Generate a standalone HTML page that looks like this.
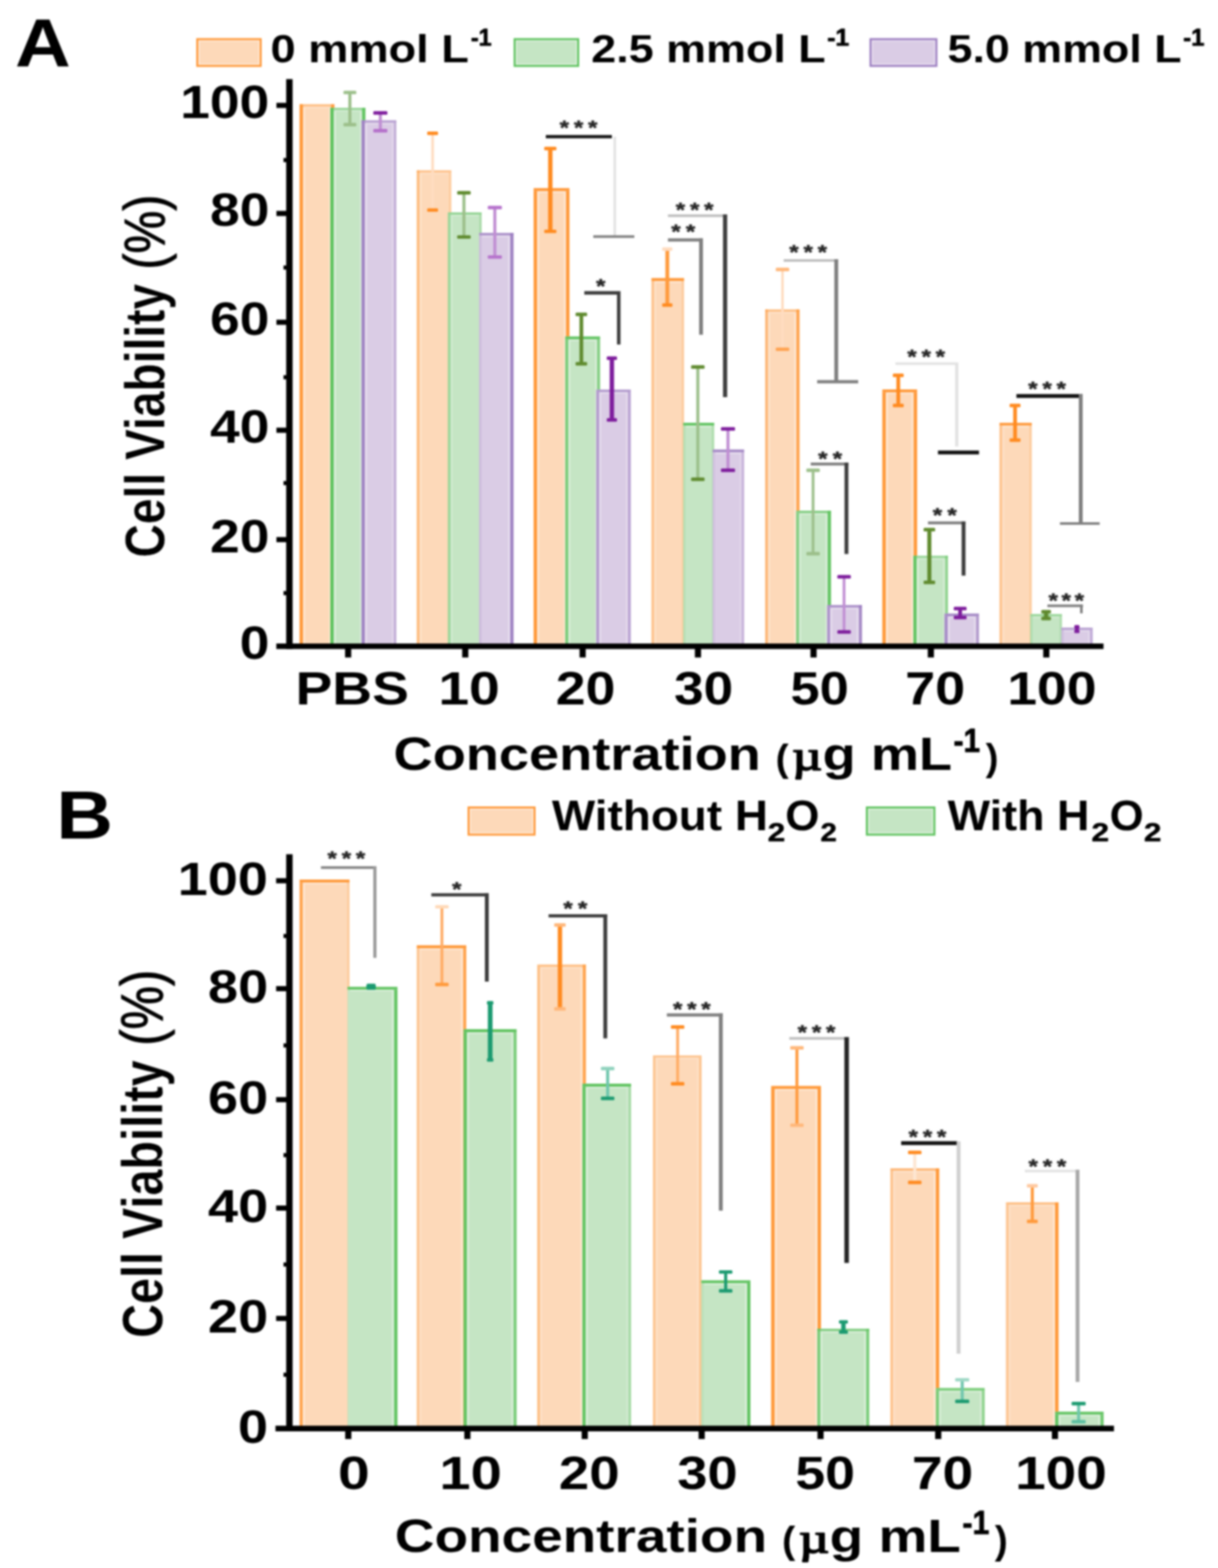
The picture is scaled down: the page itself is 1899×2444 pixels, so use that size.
<!DOCTYPE html>
<html lang="en"><head><meta charset="utf-8"><title>Cell viability</title>
<style>
html,body{margin:0;padding:0;background:#fff}
body{width:1899px;height:2444px;overflow:hidden}
svg{display:block}
svg text{font-family:"Liberation Sans", Arial, Helvetica, sans-serif;font-weight:bold}
</style></head><body>
<svg width="1899" height="2444" viewBox="0 0 1899 2444">
<defs><filter id="soft" filterUnits="userSpaceOnUse" x="0" y="0" width="1899" height="2444" color-interpolation-filters="sRGB"><feGaussianBlur stdDeviation="1.4"/></filter></defs>
<rect width="1899" height="2444" fill="#fff"/>
<g id="chart" filter="url(#soft)">
<rect x="467.1" y="162.5" width="54.2" height="844.8" fill="#fdd9b9" />
<rect x="467.1" y="162.5" width="54.2" height="3.4" fill="#ff9838" opacity="0.42"/>
<rect x="467.1" y="162.5" width="5.2" height="844.8" fill="#ff9838" opacity="1.00"/>
<rect x="516.3" y="162.5" width="5.0" height="844.8" fill="#ff9838" opacity="0.95"/>
<rect x="473.3" y="166.5" width="42.0" height="2.0" fill="#fff" opacity="0.25"/>
<rect x="472.9" y="168.5" width="2.6" height="838.8" fill="#fff" opacity="0.42"/>
<rect x="513.1" y="168.5" width="2.6" height="838.8" fill="#fff" opacity="0.42"/>
<rect x="515.0" y="168.0" width="54.6" height="839.3" fill="#c5e5c4" />
<rect x="515.0" y="168.0" width="54.6" height="3.4" fill="#5cc25c" opacity="0.42"/>
<rect x="515.0" y="168.0" width="5.2" height="839.3" fill="#5cc25c" opacity="1.00"/>
<rect x="564.6" y="168.0" width="5.0" height="839.3" fill="#5cc25c" opacity="0.95"/>
<rect x="521.2" y="172.0" width="42.4" height="2.0" fill="#fff" opacity="0.25"/>
<rect x="520.8" y="174.0" width="2.6" height="833.3" fill="#fff" opacity="0.42"/>
<rect x="561.4" y="174.0" width="2.6" height="833.3" fill="#fff" opacity="0.42"/>
<rect x="563.7" y="187.5" width="54.3" height="819.8" fill="#dacce5" />
<rect x="563.7" y="187.5" width="54.3" height="3.6" fill="#9b7dc0" opacity="0.53"/>
<rect x="563.7" y="187.5" width="5.0" height="819.8" fill="#9b7dc0" opacity="0.95"/>
<rect x="614.1" y="191.1" width="3.9" height="816.2" fill="#9b7dc0" opacity="0.37"/>
<rect x="569.7" y="191.7" width="43.4" height="2.0" fill="#fff" opacity="0.29"/>
<rect x="569.3" y="193.7" width="2.6" height="813.6" fill="#fff" opacity="0.42"/>
<rect x="610.9" y="193.7" width="2.6" height="813.6" fill="#fff" opacity="0.23"/>
<rect x="649.8" y="265.5" width="53.8" height="741.8" fill="#fdd9b9" />
<rect x="649.8" y="265.5" width="53.8" height="3.3" fill="#ff9838" opacity="0.37"/>
<rect x="649.8" y="265.5" width="4.1" height="741.8" fill="#ff9838" opacity="0.47"/>
<rect x="700.0" y="268.8" width="3.6" height="738.5" fill="#ff9838" opacity="0.21"/>
<rect x="654.9" y="269.4" width="44.1" height="2.0" fill="#fff" opacity="0.23"/>
<rect x="654.5" y="271.4" width="2.6" height="735.9" fill="#fff" opacity="0.27"/>
<rect x="698.3" y="331.0" width="52.7" height="676.3" fill="#c5e5c4" />
<rect x="698.3" y="331.0" width="52.7" height="3.5" fill="#5cc25c" opacity="0.47"/>
<rect x="698.3" y="334.5" width="4.0" height="672.8" fill="#5cc25c" opacity="0.42"/>
<rect x="747.3" y="334.5" width="3.7" height="672.8" fill="#5cc25c" opacity="0.26"/>
<rect x="703.3" y="335.1" width="43.0" height="2.0" fill="#fff" opacity="0.27"/>
<rect x="702.9" y="337.1" width="2.6" height="670.2" fill="#fff" opacity="0.25"/>
<rect x="747.0" y="363.0" width="53.6" height="644.3" fill="#dacce5" />
<rect x="747.0" y="363.0" width="53.6" height="3.9" fill="#9b7dc0" opacity="0.73"/>
<rect x="747.0" y="366.9" width="3.6" height="640.4" fill="#9b7dc0" opacity="0.21"/>
<rect x="795.6" y="363.0" width="5.0" height="644.3" fill="#9b7dc0" opacity="0.95"/>
<rect x="751.6" y="367.5" width="43.0" height="2.0" fill="#fff" opacity="0.38"/>
<rect x="792.4" y="369.5" width="2.6" height="637.8" fill="#fff" opacity="0.42"/>
<rect x="832.0" y="293.3" width="55.8" height="714.0" fill="#fdd9b9" />
<rect x="832.0" y="293.3" width="55.8" height="4.4" fill="#ff9838" opacity="1.00"/>
<rect x="832.0" y="297.7" width="5.2" height="709.6" fill="#ff9838" opacity="1.00"/>
<rect x="882.6" y="297.7" width="5.2" height="709.6" fill="#ff9838" opacity="1.00"/>
<rect x="838.2" y="298.3" width="43.4" height="2.0" fill="#fff" opacity="0.42"/>
<rect x="837.8" y="300.3" width="2.6" height="707.0" fill="#fff" opacity="0.42"/>
<rect x="879.4" y="300.3" width="2.6" height="707.0" fill="#fff" opacity="0.42"/>
<rect x="881.3" y="524.5" width="54.2" height="482.8" fill="#c5e5c4" />
<rect x="881.3" y="524.5" width="54.2" height="4.2" fill="#5cc25c" opacity="0.95"/>
<rect x="881.3" y="528.8" width="4.6" height="478.5" fill="#5cc25c" opacity="0.73"/>
<rect x="931.1" y="528.8" width="4.4" height="478.5" fill="#5cc25c" opacity="0.63"/>
<rect x="886.9" y="529.4" width="43.2" height="2.0" fill="#fff" opacity="0.42"/>
<rect x="886.5" y="531.4" width="2.6" height="475.9" fill="#fff" opacity="0.38"/>
<rect x="927.9" y="531.4" width="2.6" height="475.9" fill="#fff" opacity="0.34"/>
<rect x="929.6" y="607.3" width="53.8" height="400.0" fill="#dacce5" />
<rect x="929.6" y="607.3" width="53.8" height="3.7" fill="#9b7dc0" opacity="0.63"/>
<rect x="929.6" y="611.0" width="4.4" height="396.3" fill="#9b7dc0" opacity="0.63"/>
<rect x="979.2" y="611.0" width="4.2" height="396.3" fill="#9b7dc0" opacity="0.53"/>
<rect x="935.0" y="611.6" width="43.2" height="2.0" fill="#fff" opacity="0.34"/>
<rect x="934.6" y="613.6" width="2.6" height="393.7" fill="#fff" opacity="0.34"/>
<rect x="976.0" y="613.6" width="2.6" height="393.7" fill="#fff" opacity="0.29"/>
<rect x="1015.7" y="433.5" width="50.8" height="573.8" fill="#fdd9b9" />
<rect x="1015.7" y="433.5" width="50.8" height="4.4" fill="#ff9838" opacity="1.00"/>
<rect x="1015.7" y="437.9" width="3.9" height="569.4" fill="#ff9838" opacity="0.37"/>
<rect x="1062.9" y="437.9" width="3.6" height="569.4" fill="#ff9838" opacity="0.21"/>
<rect x="1020.6" y="438.5" width="41.3" height="2.0" fill="#fff" opacity="0.42"/>
<rect x="1020.2" y="440.5" width="2.6" height="566.8" fill="#fff" opacity="0.23"/>
<rect x="1065.2" y="659.0" width="48.3" height="348.3" fill="#c5e5c4" />
<rect x="1065.2" y="659.0" width="48.3" height="4.2" fill="#5cc25c" opacity="0.95"/>
<rect x="1065.2" y="663.2" width="3.5" height="344.0" fill="#5cc25c" opacity="0.16"/>
<rect x="1109.9" y="663.2" width="3.6" height="344.0" fill="#5cc25c" opacity="0.21"/>
<rect x="1069.7" y="663.9" width="39.2" height="2.0" fill="#fff" opacity="0.42"/>
<rect x="1111.1" y="700.7" width="49.1" height="306.6" fill="#dacce5" />
<rect x="1111.1" y="700.7" width="49.1" height="4.1" fill="#9b7dc0" opacity="0.84"/>
<rect x="1111.1" y="704.8" width="3.5" height="302.5" fill="#9b7dc0" opacity="0.16"/>
<rect x="1156.4" y="704.8" width="3.8" height="302.5" fill="#9b7dc0" opacity="0.32"/>
<rect x="1115.6" y="705.4" width="39.8" height="2.0" fill="#fff" opacity="0.42"/>
<rect x="1153.2" y="707.4" width="2.6" height="299.9" fill="#fff" opacity="0.21"/>
<rect x="1193.0" y="482.3" width="53.5" height="525.0" fill="#fdd9b9" />
<rect x="1193.0" y="482.3" width="53.5" height="3.4" fill="#ff9838" opacity="0.42"/>
<rect x="1193.0" y="482.3" width="4.2" height="525.0" fill="#ff9838" opacity="0.53"/>
<rect x="1241.7" y="482.3" width="4.8" height="525.0" fill="#ff9838" opacity="0.84"/>
<rect x="1198.2" y="486.3" width="42.5" height="2.0" fill="#fff" opacity="0.25"/>
<rect x="1197.8" y="488.3" width="2.6" height="519.0" fill="#fff" opacity="0.29"/>
<rect x="1238.5" y="488.3" width="2.6" height="519.0" fill="#fff" opacity="0.42"/>
<rect x="1241.3" y="796.0" width="54.2" height="211.3" fill="#c5e5c4" />
<rect x="1241.3" y="796.0" width="54.2" height="3.7" fill="#5cc25c" opacity="0.63"/>
<rect x="1241.3" y="799.7" width="4.4" height="207.6" fill="#5cc25c" opacity="0.63"/>
<rect x="1290.5" y="796.0" width="5.0" height="211.3" fill="#5cc25c" opacity="0.95"/>
<rect x="1246.7" y="800.3" width="42.8" height="2.0" fill="#fff" opacity="0.34"/>
<rect x="1246.3" y="802.3" width="2.6" height="205.0" fill="#fff" opacity="0.34"/>
<rect x="1287.3" y="802.3" width="2.6" height="205.0" fill="#fff" opacity="0.42"/>
<rect x="1289.6" y="943.0" width="54.3" height="64.3" fill="#dacce5" />
<rect x="1289.6" y="943.0" width="54.3" height="3.9" fill="#9b7dc0" opacity="0.73"/>
<rect x="1289.6" y="946.9" width="4.6" height="60.4" fill="#9b7dc0" opacity="0.73"/>
<rect x="1339.1" y="943.0" width="4.8" height="64.3" fill="#9b7dc0" opacity="0.84"/>
<rect x="1295.2" y="947.5" width="42.9" height="2.0" fill="#fff" opacity="0.38"/>
<rect x="1294.8" y="949.5" width="2.6" height="57.8" fill="#fff" opacity="0.38"/>
<rect x="1335.9" y="949.5" width="2.6" height="57.8" fill="#fff" opacity="0.42"/>
<rect x="1375.7" y="607.0" width="54.1" height="400.3" fill="#fdd9b9" />
<rect x="1375.7" y="607.0" width="54.1" height="4.4" fill="#ff9838" opacity="1.00"/>
<rect x="1375.7" y="611.4" width="5.2" height="395.9" fill="#ff9838" opacity="1.00"/>
<rect x="1424.6" y="611.4" width="5.2" height="395.9" fill="#ff9838" opacity="1.00"/>
<rect x="1381.9" y="612.0" width="41.7" height="2.0" fill="#fff" opacity="0.42"/>
<rect x="1381.5" y="614.0" width="2.6" height="393.3" fill="#fff" opacity="0.42"/>
<rect x="1421.4" y="614.0" width="2.6" height="393.3" fill="#fff" opacity="0.42"/>
<rect x="1424.0" y="866.2" width="54.0" height="141.1" fill="#c5e5c4" />
<rect x="1424.0" y="866.2" width="54.0" height="3.4" fill="#5cc25c" opacity="0.42"/>
<rect x="1424.0" y="866.2" width="5.0" height="141.1" fill="#5cc25c" opacity="0.95"/>
<rect x="1473.8" y="866.2" width="4.2" height="141.1" fill="#5cc25c" opacity="0.53"/>
<rect x="1430.0" y="870.2" width="42.8" height="2.0" fill="#fff" opacity="0.25"/>
<rect x="1429.6" y="872.2" width="2.6" height="135.1" fill="#fff" opacity="0.42"/>
<rect x="1470.6" y="872.2" width="2.6" height="135.1" fill="#fff" opacity="0.29"/>
<rect x="1472.6" y="956.4" width="53.7" height="50.9" fill="#dacce5" />
<rect x="1472.6" y="956.4" width="53.7" height="4.1" fill="#9b7dc0" opacity="0.84"/>
<rect x="1472.6" y="960.5" width="4.8" height="46.8" fill="#9b7dc0" opacity="0.84"/>
<rect x="1521.9" y="960.5" width="4.4" height="46.8" fill="#9b7dc0" opacity="0.63"/>
<rect x="1478.4" y="961.1" width="42.5" height="2.0" fill="#fff" opacity="0.42"/>
<rect x="1478.0" y="963.1" width="2.6" height="44.2" fill="#fff" opacity="0.42"/>
<rect x="1518.7" y="963.1" width="2.6" height="44.2" fill="#fff" opacity="0.34"/>
<rect x="1558.4" y="659.0" width="50.2" height="348.3" fill="#fdd9b9" />
<rect x="1558.4" y="659.0" width="50.2" height="4.2" fill="#ff9838" opacity="0.95"/>
<rect x="1558.4" y="663.2" width="3.9" height="344.0" fill="#ff9838" opacity="0.37"/>
<rect x="1605.0" y="663.2" width="3.6" height="344.0" fill="#ff9838" opacity="0.21"/>
<rect x="1563.3" y="663.9" width="40.7" height="2.0" fill="#fff" opacity="0.42"/>
<rect x="1562.9" y="665.9" width="2.6" height="341.4" fill="#fff" opacity="0.23"/>
<rect x="1606.2" y="957.1" width="49.5" height="50.2" fill="#c5e5c4" />
<rect x="1606.2" y="957.1" width="49.5" height="3.4" fill="#5cc25c" opacity="0.42"/>
<rect x="1606.2" y="960.5" width="3.6" height="46.8" fill="#5cc25c" opacity="0.21"/>
<rect x="1652.1" y="960.5" width="3.6" height="46.8" fill="#5cc25c" opacity="0.21"/>
<rect x="1610.8" y="961.1" width="40.3" height="2.0" fill="#fff" opacity="0.25"/>
<rect x="1654.6" y="978.3" width="49.0" height="29.0" fill="#dacce5" />
<rect x="1654.6" y="978.3" width="49.0" height="3.6" fill="#9b7dc0" opacity="0.53"/>
<rect x="1654.6" y="981.9" width="3.6" height="25.4" fill="#9b7dc0" opacity="0.21"/>
<rect x="1699.6" y="981.9" width="4.0" height="25.4" fill="#9b7dc0" opacity="0.42"/>
<rect x="1659.2" y="982.5" width="39.4" height="2.0" fill="#fff" opacity="0.29"/>
<rect x="1696.4" y="984.5" width="2.6" height="22.8" fill="#fff" opacity="0.25"/>
<rect x="543.1" y="144.1" width="4.8" height="50.1" fill="#9cbf8a" />
<rect x="535.5" y="141.4" width="20" height="5.4" rx="1.5" fill="#9cbf8a"/>
<rect x="535.5" y="191.5" width="20" height="5.4" rx="1.5" fill="#9cbf8a"/>
<rect x="590.6" y="176.0" width="4.8" height="27.7" fill="#c08ed3" />
<rect x="582.0" y="173.3" width="22" height="5.4" rx="1.5" fill="#7d1c9c"/>
<rect x="582.0" y="201.0" width="22" height="5.4" rx="1.5" fill="#b46fca"/>
<rect x="672.4" y="207.8" width="4.2" height="119.6" fill="#ffdcc0" />
<rect x="666.0" y="205.1" width="17" height="5.4" rx="1.5" fill="#ff8a1f"/>
<rect x="666.0" y="324.7" width="17" height="5.4" rx="1.5" fill="#ff8a1f"/>
<rect x="720.9" y="300.5" width="4.8" height="68.9" fill="#9cbf8a" />
<rect x="712.8" y="297.8" width="21" height="5.4" rx="1.5" fill="#5f8a2e"/>
<rect x="712.8" y="366.7" width="21" height="5.4" rx="1.5" fill="#5f8a2e"/>
<rect x="769.1" y="323.5" width="4.8" height="77.1" fill="#c08ed3" />
<rect x="760.5" y="320.8" width="22" height="5.4" rx="1.5" fill="#b673cc"/>
<rect x="760.5" y="397.9" width="22" height="5.4" rx="1.5" fill="#b673cc"/>
<rect x="854.6" y="231.5" width="6.8" height="129.1" fill="#ff8a1f" />
<rect x="848.5" y="228.8" width="19" height="5.4" rx="1.5" fill="#ff8a1f"/>
<rect x="848.5" y="357.9" width="19" height="5.4" rx="1.5" fill="#ff8a1f"/>
<rect x="903.5" y="490.0" width="5.8" height="77.0" fill="#5f8a2e" />
<rect x="897.4" y="487.3" width="18" height="5.4" rx="1.5" fill="#5f8a2e"/>
<rect x="897.4" y="564.3" width="18" height="5.4" rx="1.5" fill="#5f8a2e"/>
<rect x="950.6" y="558.3" width="6.8" height="96.2" fill="#7d1c9c" />
<rect x="946.0" y="555.6" width="16" height="5.4" rx="1.5" fill="#7d1c9c"/>
<rect x="946.0" y="651.8" width="16" height="5.4" rx="1.5" fill="#7d1c9c"/>
<rect x="1037.4" y="388.2" width="6.0" height="87.3" fill="#ff9a3c" />
<rect x="1032.4" y="385.5" width="16" height="5.4" rx="1.5" fill="#ffdcc0"/>
<rect x="1032.4" y="472.8" width="16" height="5.4" rx="1.5" fill="#ff8a1f"/>
<rect x="1085.6" y="572.0" width="4.8" height="175.0" fill="#9cbf8a" />
<rect x="1077.5" y="569.3" width="21" height="5.4" rx="1.5" fill="#5f8a2e"/>
<rect x="1077.5" y="744.3" width="21" height="5.4" rx="1.5" fill="#5f8a2e"/>
<rect x="1132.6" y="668.5" width="4.8" height="64.5" fill="#c08ed3" />
<rect x="1124.0" y="665.8" width="22" height="5.4" rx="1.5" fill="#7d1c9c"/>
<rect x="1124.0" y="730.3" width="22" height="5.4" rx="1.5" fill="#7d1c9c"/>
<rect x="1218.0" y="420.0" width="4.0" height="124.4" fill="#ffdcc0" />
<rect x="1209.5" y="417.3" width="21" height="5.4" rx="1.5" fill="#ffb77a"/>
<rect x="1209.5" y="541.7" width="21" height="5.4" rx="1.5" fill="#ffa24f"/>
<rect x="1265.5" y="733.0" width="4.3" height="130.0" fill="#9cbf8a" />
<rect x="1257.2" y="730.3" width="21" height="5.4" rx="1.5" fill="#9cbf8a"/>
<rect x="1257.2" y="860.3" width="21" height="5.4" rx="1.5" fill="#9cbf8a"/>
<rect x="1313.8" y="899.0" width="4.3" height="86.0" fill="#c08ed3" />
<rect x="1305.5" y="896.3" width="21" height="5.4" rx="1.5" fill="#7d1c9c"/>
<rect x="1305.5" y="982.3" width="21" height="5.4" rx="1.5" fill="#7d1c9c"/>
<rect x="1397.6" y="585.0" width="5.8" height="47.0" fill="#ff8a1f" />
<rect x="1392.0" y="582.3" width="17" height="5.4" rx="1.5" fill="#ff8a1f"/>
<rect x="1392.0" y="629.3" width="17" height="5.4" rx="1.5" fill="#ff8a1f"/>
<rect x="1445.8" y="825.5" width="6.3" height="82.3" fill="#5f8a2e" />
<rect x="1440.0" y="822.8" width="18" height="5.4" rx="1.5" fill="#5f8a2e"/>
<rect x="1440.0" y="905.1" width="18" height="5.4" rx="1.5" fill="#5f8a2e"/>
<rect x="1494.1" y="948.5" width="5.8" height="14.0" fill="#7d1c9c" />
<rect x="1487.0" y="945.8" width="20" height="5.4" rx="1.5" fill="#7d1c9c"/>
<rect x="1487.0" y="959.8" width="20" height="5.4" rx="1.5" fill="#7d1c9c"/>
<rect x="1579.7" y="632.0" width="5.8" height="54.0" fill="#ff8a1f" />
<rect x="1574.1" y="629.3" width="17" height="5.4" rx="1.5" fill="#ff8a1f"/>
<rect x="1574.1" y="683.3" width="17" height="5.4" rx="1.5" fill="#ff8a1f"/>
<rect x="1627.6" y="953.5" width="6.8" height="10.5" fill="#5f8a2e" />
<rect x="1623.5" y="950.8" width="15" height="5.4" rx="1.5" fill="#5f8a2e"/>
<rect x="1623.5" y="961.3" width="15" height="5.4" rx="1.5" fill="#5f8a2e"/>
<rect x="1676.1" y="977.0" width="5.8" height="7.0" fill="#7d1c9c" />
<rect x="1675.0" y="974.3" width="8" height="5.4" rx="1.5" fill="#7d1c9c"/>
<rect x="1675.0" y="981.3" width="8" height="5.4" rx="1.5" fill="#7d1c9c"/>
<line x1="851.0" y1="213.0" x2="954.0" y2="213.0" stroke="#111" stroke-width="5" stroke-linecap="butt"/>
<line x1="958.5" y1="213.0" x2="958.5" y2="368.7" stroke="#e2e2e2" stroke-width="4" stroke-linecap="butt"/>
<line x1="925.0" y1="368.7" x2="989.0" y2="368.7" stroke="#7f7f7f" stroke-width="4" stroke-linecap="butt"/>
<text transform="translate(872.6,210.2) scale(1.22,1)" font-size="31" letter-spacing="6.02" fill="#262626" stroke="#262626" stroke-width="0.6" stroke-linejoin="round">***</text>
<polyline points="911.0,456.4 964.7,456.4 964.7,537.0" fill="none" stroke="#3c3c3c" stroke-width="5.5" stroke-linejoin="miter"/>
<text transform="translate(929.3,456.7) scale(1.22,1)" font-size="31" letter-spacing="0.00" fill="#262626" stroke="#262626" stroke-width="0.6" stroke-linejoin="round">*</text>
<line x1="1041.4" y1="336.2" x2="1133.5" y2="336.2" stroke="#bdbdbd" stroke-width="4" stroke-linecap="butt"/>
<line x1="1130.5" y1="334.2" x2="1130.5" y2="619.0" stroke="#3c3c3c" stroke-width="6.5" stroke-linecap="butt"/>
<text transform="translate(1053.6,337.5) scale(1.22,1)" font-size="31" letter-spacing="6.02" fill="#262626" stroke="#262626" stroke-width="0.6" stroke-linejoin="round">***</text>
<line x1="1041.4" y1="374.0" x2="1096.0" y2="374.0" stroke="#7f7f7f" stroke-width="5" stroke-linecap="butt"/>
<line x1="1093.0" y1="371.5" x2="1093.0" y2="521.8" stroke="#7f7f7f" stroke-width="6" stroke-linecap="butt"/>
<text transform="translate(1046.6,372.1) scale(1.22,1)" font-size="31" letter-spacing="6.48" fill="#262626" stroke="#262626" stroke-width="0.6" stroke-linejoin="round">**</text>
<line x1="1221.8" y1="405.9" x2="1307.0" y2="405.9" stroke="#bdbdbd" stroke-width="4" stroke-linecap="butt"/>
<line x1="1303.8" y1="404.0" x2="1303.8" y2="595.0" stroke="#7f7f7f" stroke-width="6" stroke-linecap="butt"/>
<line x1="1274.0" y1="595.0" x2="1338.0" y2="595.0" stroke="#7f7f7f" stroke-width="5" stroke-linecap="butt"/>
<text transform="translate(1230.6,403.7) scale(1.22,1)" font-size="31" letter-spacing="6.02" fill="#262626" stroke="#262626" stroke-width="0.6" stroke-linejoin="round">***</text>
<line x1="1264.0" y1="723.3" x2="1323.0" y2="723.3" stroke="#7f7f7f" stroke-width="4.5" stroke-linecap="butt"/>
<line x1="1319.7" y1="721.0" x2="1319.7" y2="863.6" stroke="#3c3c3c" stroke-width="6" stroke-linecap="butt"/>
<text transform="translate(1275.6,725.7) scale(1.22,1)" font-size="31" letter-spacing="6.48" fill="#262626" stroke="#262626" stroke-width="0.6" stroke-linejoin="round">**</text>
<line x1="1396.0" y1="566.7" x2="1494.0" y2="566.7" stroke="#e2e2e2" stroke-width="4" stroke-linecap="butt"/>
<line x1="1491.7" y1="565.0" x2="1491.7" y2="696.0" stroke="#e2e2e2" stroke-width="5" stroke-linecap="butt"/>
<line x1="1462.4" y1="705.3" x2="1526.4" y2="705.3" stroke="#111" stroke-width="6" stroke-linecap="butt"/>
<text transform="translate(1414.6,566.5) scale(1.22,1)" font-size="31" letter-spacing="6.02" fill="#262626" stroke="#262626" stroke-width="0.6" stroke-linejoin="round">***</text>
<line x1="1446.8" y1="815.0" x2="1505.3" y2="815.0" stroke="#7f7f7f" stroke-width="4.5" stroke-linecap="butt"/>
<line x1="1502.3" y1="812.8" x2="1502.3" y2="897.2" stroke="#3c3c3c" stroke-width="6" stroke-linecap="butt"/>
<text transform="translate(1454.3,814.1) scale(1.22,1)" font-size="31" letter-spacing="6.48" fill="#262626" stroke="#262626" stroke-width="0.6" stroke-linejoin="round">**</text>
<line x1="1584.7" y1="617.3" x2="1688.0" y2="617.3" stroke="#111" stroke-width="6" stroke-linecap="butt"/>
<line x1="1685.0" y1="614.3" x2="1685.0" y2="816.0" stroke="#7f7f7f" stroke-width="6" stroke-linecap="butt"/>
<line x1="1652.6" y1="816.0" x2="1714.5" y2="816.0" stroke="#7f7f7f" stroke-width="4" stroke-linecap="butt"/>
<text transform="translate(1603.1,616.7) scale(1.22,1)" font-size="31" letter-spacing="6.02" fill="#262626" stroke="#262626" stroke-width="0.6" stroke-linejoin="round">***</text>
<line x1="1633.0" y1="944.3" x2="1688.5" y2="944.3" stroke="#7f7f7f" stroke-width="4" stroke-linecap="butt"/>
<line x1="1686.0" y1="942.3" x2="1686.0" y2="956.0" stroke="#7f7f7f" stroke-width="4" stroke-linecap="butt"/>
<text transform="translate(1634.8,947.3) scale(1.22,1)" font-size="31" letter-spacing="4.59" fill="#262626" stroke="#262626" stroke-width="0.6" stroke-linejoin="round">***</text>
<rect x="446.2" y="123.3" width="10.0" height="888.3" fill="#000" />
<rect x="430.8" y="1003.0" width="1289.7" height="8.6" fill="#000" />
<rect x="431.0" y="837.1" width="20.2" height="8.0" fill="#000" />
<rect x="431.0" y="666.6" width="20.2" height="8.0" fill="#000" />
<rect x="431.0" y="498.3" width="20.2" height="8.0" fill="#000" />
<rect x="431.0" y="328.7" width="20.2" height="8.0" fill="#000" />
<rect x="431.0" y="160.3" width="20.2" height="8.0" fill="#000" />
<rect x="442.0" y="921.3" width="9.2" height="6.4" fill="#000" />
<rect x="442.0" y="749.8" width="9.2" height="6.4" fill="#000" />
<rect x="442.0" y="584.8" width="9.2" height="6.4" fill="#000" />
<rect x="442.0" y="413.8" width="9.2" height="6.4" fill="#000" />
<rect x="442.0" y="246.3" width="9.2" height="6.4" fill="#000" />
<rect x="538.0" y="1007.3" width="9.6" height="17.5" fill="#000" />
<rect x="720.6" y="1007.3" width="9.6" height="17.5" fill="#000" />
<rect x="903.6" y="1007.3" width="9.6" height="17.5" fill="#000" />
<rect x="1083.4" y="1007.3" width="9.6" height="17.5" fill="#000" />
<rect x="1263.6" y="1007.3" width="9.6" height="17.5" fill="#000" />
<rect x="1446.5" y="1007.3" width="9.6" height="17.5" fill="#000" />
<rect x="1626.5" y="1007.3" width="9.6" height="17.5" fill="#000" />
<text transform="translate(373.67,1026.80) scale(1.1550,1)" font-size="72.00" fill="#000" >0</text>
<text transform="translate(327.52,860.60) scale(1.1550,1)" font-size="72.00" fill="#000" >20</text>
<text transform="translate(327.52,690.10) scale(1.1550,1)" font-size="72.00" fill="#000" >40</text>
<text transform="translate(327.52,521.80) scale(1.1550,1)" font-size="72.00" fill="#000" >60</text>
<text transform="translate(327.52,352.20) scale(1.1550,1)" font-size="72.00" fill="#000" >80</text>
<text transform="translate(280.95,183.80) scale(1.1550,1)" font-size="72.00" fill="#000" >100</text>
<text transform="translate(460.81,1097.50) scale(1.1937,1)" font-size="72.00" fill="#000" >PBS</text>
<text transform="translate(683.40,1097.50) scale(1.1968,1)" font-size="72.00" fill="#000" >10</text>
<text transform="translate(866.57,1097.50) scale(1.1608,1)" font-size="72.00" fill="#000" >20</text>
<text transform="translate(1050.93,1097.50) scale(1.1497,1)" font-size="72.00" fill="#000" >30</text>
<text transform="translate(1232.55,1097.50) scale(1.1325,1)" font-size="72.00" fill="#000" >50</text>
<text transform="translate(1411.21,1097.50) scale(1.1694,1)" font-size="72.00" fill="#000" >70</text>
<text transform="translate(1570.38,1097.50) scale(1.1590,1)" font-size="72.00" fill="#000" >100</text>
<text transform="translate(613.62,1199.50) scale(1.1735,1)" font-size="72.00" fill="#000" >Concentration</text>
<text transform="translate(1209.15,1201.51) scale(1.0439,1)" font-size="58.50" fill="#000" >(</text>
<text transform="translate(1235.29,1200.13) scale(1.2353,1)" font-size="65.07" style="font-family:'Liberation Serif',serif;font-weight:normal;" fill="#000" stroke="#000" stroke-width="2.4" stroke-linejoin="round">µ</text>
<text transform="translate(1282.62,1199.50) scale(1.1734,1)" font-size="72.00" fill="#000" >g mL</text>
<text transform="translate(1486.74,1171.50) scale(0.8980,1)" font-size="51.74" fill="#000" stroke="#000" stroke-width="1.2" stroke-linejoin="round">-1</text>
<text transform="translate(1536.70,1201.42) scale(1.0018,1)" font-size="59.89" fill="#000" >)</text>
<text transform="translate(256.30,868.88) rotate(-90) scale(1,1.2000)" font-size="71.94" fill="#000" stroke="#fff" stroke-width="0.3">Cell Viability</text>
<text transform="translate(256.30,419.89) rotate(-90) scale(1,1.2000)" font-size="74.84" style="font-weight:normal;" fill="#000" stroke="#000" stroke-width="1.2" stroke-linejoin="round">(%)</text>
<rect x="307.5" y="61.0" width="99.0" height="41.8" fill="#fdd9b9" stroke="#ff9838" stroke-width="3"/>
<rect x="310.5" y="64.0" width="93.0" height="35.8" fill="none" stroke="#fff" stroke-opacity="0.45" stroke-width="1.5"/>
<rect x="802.3" y="61.0" width="99.2" height="41.8" fill="#c5e5c4" stroke="#5cc25c" stroke-width="3"/>
<rect x="805.3" y="64.0" width="93.2" height="35.8" fill="none" stroke="#fff" stroke-opacity="0.45" stroke-width="1.5"/>
<rect x="1357.2" y="61.0" width="102.8" height="41.8" fill="#dacce5" stroke="#9b7dc0" stroke-width="3"/>
<rect x="1360.2" y="64.0" width="96.8" height="35.8" fill="none" stroke="#fff" stroke-opacity="0.45" stroke-width="1.5"/>
<text transform="translate(421.78,97.20) scale(1.1551,1)" font-size="61.00" fill="#000" >0 mmol L</text>
<text transform="translate(734.25,70.90) scale(0.9951,1)" font-size="36.52" fill="#000" stroke="#000" stroke-width="1.0" stroke-linejoin="round">-1</text>
<text transform="translate(921.85,97.20) scale(1.1469,1)" font-size="61.00" fill="#000" >2.5 mmol L</text>
<text transform="translate(1289.65,70.90) scale(1.0585,1)" font-size="36.52" fill="#000" stroke="#000" stroke-width="1.0" stroke-linejoin="round">-1</text>
<text transform="translate(1477.30,97.20) scale(1.1458,1)" font-size="61.00" fill="#000" >5.0 mmol L</text>
<text transform="translate(1844.82,70.90) scale(1.0151,1)" font-size="36.52" fill="#000" stroke="#000" stroke-width="1.0" stroke-linejoin="round">-1</text>
<text transform="translate(23.50,103.50) scale(1.1435,1)" font-size="105.07" fill="#000" >A</text>
<rect x="467.1" y="1371.0" width="77.9" height="855.6" fill="#fdd9b9" />
<rect x="467.1" y="1371.0" width="77.9" height="4.4" fill="#ff9838" opacity="1.00"/>
<rect x="467.1" y="1375.4" width="4.8" height="851.2" fill="#ff9838" opacity="0.84"/>
<rect x="541.4" y="1375.4" width="3.6" height="851.2" fill="#ff9838" opacity="0.21"/>
<rect x="472.9" y="1376.0" width="67.5" height="2.0" fill="#fff" opacity="0.42"/>
<rect x="472.5" y="1378.0" width="2.6" height="848.6" fill="#fff" opacity="0.42"/>
<rect x="541.8" y="1538.2" width="77.8" height="688.4" fill="#c5e5c4" />
<rect x="541.8" y="1538.2" width="77.8" height="4.2" fill="#5cc25c" opacity="0.95"/>
<rect x="614.6" y="1542.5" width="5.0" height="684.1" fill="#5cc25c" opacity="0.95"/>
<rect x="546.0" y="1543.0" width="67.6" height="2.0" fill="#fff" opacity="0.42"/>
<rect x="611.4" y="1545.0" width="2.6" height="681.5" fill="#fff" opacity="0.42"/>
<rect x="649.8" y="1473.5" width="77.2" height="753.1" fill="#fdd9b9" />
<rect x="649.8" y="1473.5" width="77.2" height="4.4" fill="#ff9838" opacity="1.00"/>
<rect x="649.8" y="1477.9" width="3.8" height="748.7" fill="#ff9838" opacity="0.32"/>
<rect x="722.2" y="1477.9" width="4.8" height="748.7" fill="#ff9838" opacity="0.84"/>
<rect x="654.6" y="1478.5" width="66.6" height="2.0" fill="#fff" opacity="0.42"/>
<rect x="654.2" y="1480.5" width="2.6" height="746.1" fill="#fff" opacity="0.21"/>
<rect x="719.0" y="1480.5" width="2.6" height="746.1" fill="#fff" opacity="0.42"/>
<rect x="722.8" y="1604.3" width="82.6" height="622.3" fill="#c5e5c4" />
<rect x="722.8" y="1604.3" width="82.6" height="4.4" fill="#5cc25c" opacity="1.00"/>
<rect x="722.8" y="1608.7" width="5.0" height="617.9" fill="#5cc25c" opacity="0.95"/>
<rect x="800.8" y="1608.7" width="4.6" height="617.9" fill="#5cc25c" opacity="0.73"/>
<rect x="728.8" y="1609.3" width="71.0" height="2.0" fill="#fff" opacity="0.42"/>
<rect x="728.4" y="1611.3" width="2.6" height="615.3" fill="#fff" opacity="0.42"/>
<rect x="797.6" y="1611.3" width="2.6" height="615.3" fill="#fff" opacity="0.38"/>
<rect x="837.7" y="1503.5" width="75.7" height="723.1" fill="#fdd9b9" />
<rect x="837.7" y="1503.5" width="75.7" height="3.4" fill="#ff9838" opacity="0.42"/>
<rect x="837.7" y="1506.9" width="4.0" height="719.7" fill="#ff9838" opacity="0.42"/>
<rect x="908.6" y="1503.5" width="4.8" height="723.1" fill="#ff9838" opacity="0.84"/>
<rect x="842.7" y="1507.5" width="64.9" height="2.0" fill="#fff" opacity="0.25"/>
<rect x="842.3" y="1509.5" width="2.6" height="717.1" fill="#fff" opacity="0.25"/>
<rect x="905.4" y="1509.5" width="2.6" height="717.1" fill="#fff" opacity="0.42"/>
<rect x="908.0" y="1689.2" width="75.9" height="537.4" fill="#c5e5c4" />
<rect x="908.0" y="1689.2" width="75.9" height="4.4" fill="#5cc25c" opacity="1.00"/>
<rect x="908.0" y="1693.6" width="5.0" height="533.0" fill="#5cc25c" opacity="0.95"/>
<rect x="980.1" y="1693.6" width="3.8" height="533.0" fill="#5cc25c" opacity="0.32"/>
<rect x="914.0" y="1694.2" width="65.1" height="2.0" fill="#fff" opacity="0.42"/>
<rect x="913.6" y="1696.2" width="2.6" height="530.4" fill="#fff" opacity="0.42"/>
<rect x="976.9" y="1696.2" width="2.6" height="530.4" fill="#fff" opacity="0.21"/>
<rect x="1018.0" y="1645.0" width="75.8" height="581.6" fill="#fdd9b9" />
<rect x="1018.0" y="1645.0" width="75.8" height="3.2" fill="#ff9838" opacity="0.32"/>
<rect x="1018.0" y="1648.2" width="3.8" height="578.4" fill="#ff9838" opacity="0.32"/>
<rect x="1090.0" y="1648.2" width="3.8" height="578.4" fill="#ff9838" opacity="0.32"/>
<rect x="1022.8" y="1648.8" width="66.2" height="2.0" fill="#fff" opacity="0.21"/>
<rect x="1022.4" y="1650.8" width="2.6" height="575.8" fill="#fff" opacity="0.21"/>
<rect x="1086.8" y="1650.8" width="2.6" height="575.8" fill="#fff" opacity="0.21"/>
<rect x="1093.5" y="1995.7" width="76.5" height="230.9" fill="#c5e5c4" />
<rect x="1093.5" y="1995.7" width="76.5" height="4.2" fill="#5cc25c" opacity="0.95"/>
<rect x="1093.5" y="2000.0" width="3.4" height="226.6" fill="#5cc25c" opacity="0.11"/>
<rect x="1165.0" y="2000.0" width="5.0" height="226.6" fill="#5cc25c" opacity="0.95"/>
<rect x="1097.9" y="2000.5" width="66.1" height="2.0" fill="#fff" opacity="0.42"/>
<rect x="1161.8" y="2002.5" width="2.6" height="224.0" fill="#fff" opacity="0.42"/>
<rect x="1202.4" y="1692.7" width="77.6" height="533.9" fill="#fdd9b9" />
<rect x="1202.4" y="1692.7" width="77.6" height="4.4" fill="#ff9838" opacity="1.00"/>
<rect x="1202.4" y="1697.1" width="5.2" height="529.5" fill="#ff9838" opacity="1.00"/>
<rect x="1274.8" y="1697.1" width="5.2" height="529.5" fill="#ff9838" opacity="1.00"/>
<rect x="1208.6" y="1697.7" width="65.2" height="2.0" fill="#fff" opacity="0.42"/>
<rect x="1208.2" y="1699.7" width="2.6" height="526.9" fill="#fff" opacity="0.42"/>
<rect x="1271.6" y="1699.7" width="2.6" height="526.9" fill="#fff" opacity="0.42"/>
<rect x="1274.3" y="2071.0" width="80.9" height="155.6" fill="#c5e5c4" />
<rect x="1274.3" y="2071.0" width="80.9" height="3.7" fill="#5cc25c" opacity="0.63"/>
<rect x="1274.3" y="2071.0" width="4.6" height="155.6" fill="#5cc25c" opacity="0.73"/>
<rect x="1350.6" y="2071.0" width="4.6" height="155.6" fill="#5cc25c" opacity="0.73"/>
<rect x="1279.9" y="2075.3" width="69.7" height="2.0" fill="#fff" opacity="0.34"/>
<rect x="1279.5" y="2077.3" width="2.6" height="149.3" fill="#fff" opacity="0.38"/>
<rect x="1347.4" y="2077.3" width="2.6" height="149.3" fill="#fff" opacity="0.38"/>
<rect x="1388.2" y="1821.0" width="76.1" height="405.6" fill="#fdd9b9" />
<rect x="1388.2" y="1821.0" width="76.1" height="3.6" fill="#ff9838" opacity="0.53"/>
<rect x="1388.2" y="1824.6" width="3.9" height="402.0" fill="#ff9838" opacity="0.37"/>
<rect x="1459.1" y="1821.0" width="5.2" height="405.6" fill="#ff9838" opacity="1.00"/>
<rect x="1393.1" y="1825.2" width="65.0" height="2.0" fill="#fff" opacity="0.29"/>
<rect x="1392.7" y="1827.2" width="2.6" height="399.4" fill="#fff" opacity="0.23"/>
<rect x="1455.9" y="1827.2" width="2.6" height="399.4" fill="#fff" opacity="0.42"/>
<rect x="1459.2" y="2163.5" width="76.0" height="63.1" fill="#c5e5c4" />
<rect x="1459.2" y="2163.5" width="76.0" height="3.9" fill="#5cc25c" opacity="0.73"/>
<rect x="1459.2" y="2167.4" width="4.6" height="59.2" fill="#5cc25c" opacity="0.73"/>
<rect x="1531.0" y="2167.4" width="4.2" height="59.2" fill="#5cc25c" opacity="0.53"/>
<rect x="1464.8" y="2168.0" width="65.2" height="2.0" fill="#fff" opacity="0.38"/>
<rect x="1464.4" y="2170.0" width="2.6" height="56.6" fill="#fff" opacity="0.38"/>
<rect x="1527.8" y="2170.0" width="2.6" height="56.6" fill="#fff" opacity="0.29"/>
<rect x="1568.5" y="1874.0" width="81.8" height="352.6" fill="#fdd9b9" />
<rect x="1568.5" y="1874.0" width="81.8" height="3.4" fill="#ff9838" opacity="0.42"/>
<rect x="1568.5" y="1877.4" width="3.8" height="349.2" fill="#ff9838" opacity="0.32"/>
<rect x="1645.1" y="1874.0" width="5.2" height="352.6" fill="#ff9838" opacity="1.00"/>
<rect x="1573.3" y="1878.0" width="70.8" height="2.0" fill="#fff" opacity="0.25"/>
<rect x="1572.9" y="1880.0" width="2.6" height="346.6" fill="#fff" opacity="0.21"/>
<rect x="1641.9" y="1880.0" width="2.6" height="346.6" fill="#fff" opacity="0.42"/>
<rect x="1645.1" y="2200.5" width="75.5" height="26.1" fill="#c5e5c4" />
<rect x="1645.1" y="2200.5" width="75.5" height="4.2" fill="#5cc25c" opacity="0.95"/>
<rect x="1645.1" y="2204.8" width="5.0" height="21.8" fill="#5cc25c" opacity="0.95"/>
<rect x="1715.8" y="2204.8" width="4.8" height="21.8" fill="#5cc25c" opacity="0.84"/>
<rect x="1651.1" y="2205.3" width="63.7" height="2.0" fill="#fff" opacity="0.42"/>
<rect x="1650.7" y="2207.3" width="2.6" height="19.2" fill="#fff" opacity="0.42"/>
<rect x="1712.6" y="2207.3" width="2.6" height="19.2" fill="#fff" opacity="0.42"/>
<rect x="571.2" y="1536.0" width="14.8" height="4.0" fill="#1b9a70" />
<rect x="571.6" y="1533.3" width="14" height="5.4" rx="1.5" fill="#1b9a70"/>
<rect x="571.6" y="1537.3" width="14" height="5.4" rx="1.5" fill="#1b9a70"/>
<rect x="686.8" y="1413.4" width="4.4" height="121.1" fill="#ffab63" />
<rect x="678.5" y="1410.7" width="21" height="5.4" rx="1.5" fill="#ffd9b8"/>
<rect x="678.5" y="1531.8" width="21" height="5.4" rx="1.5" fill="#ff9a3c"/>
<rect x="760.6" y="1563.0" width="7.3" height="89.0" fill="#1b9a70" />
<rect x="759.2" y="1560.3" width="10" height="5.4" rx="1.5" fill="#1b9a70"/>
<rect x="759.2" y="1649.3" width="10" height="5.4" rx="1.5" fill="#1b9a70"/>
<rect x="869.6" y="1441.7" width="6.8" height="130.8" fill="#ff8a1f" />
<rect x="864.0" y="1439.0" width="18" height="5.4" rx="1.5" fill="#ffb77a"/>
<rect x="864.0" y="1569.8" width="18" height="5.4" rx="1.5" fill="#ffb77a"/>
<rect x="945.0" y="1665.5" width="4.8" height="46.5" fill="#6fc6ad" />
<rect x="936.9" y="1662.8" width="21" height="5.4" rx="1.5" fill="#8fd2bd"/>
<rect x="936.9" y="1709.3" width="21" height="5.4" rx="1.5" fill="#1b9a70"/>
<rect x="1054.3" y="1600.8" width="4.4" height="88.4" fill="#ffab63" />
<rect x="1046.0" y="1598.1" width="21" height="5.4" rx="1.5" fill="#ff8a1f"/>
<rect x="1046.0" y="1686.5" width="21" height="5.4" rx="1.5" fill="#ff8a1f"/>
<rect x="1129.0" y="1982.6" width="4.8" height="29.4" fill="#1b9a70" />
<rect x="1120.9" y="1979.9" width="21" height="5.4" rx="1.5" fill="#1b9a70"/>
<rect x="1120.9" y="2009.3" width="21" height="5.4" rx="1.5" fill="#1b9a70"/>
<rect x="1240.2" y="1633.3" width="4.6" height="120.6" fill="#ff9a3c" />
<rect x="1232.0" y="1630.6" width="21" height="5.4" rx="1.5" fill="#ffb77a"/>
<rect x="1232.0" y="1751.2" width="21" height="5.4" rx="1.5" fill="#ffb77a"/>
<rect x="1311.6" y="2060.4" width="6.8" height="15.9" fill="#1b9a70" />
<rect x="1308.0" y="2057.7" width="14" height="5.4" rx="1.5" fill="#1b9a70"/>
<rect x="1308.0" y="2073.6" width="14" height="5.4" rx="1.5" fill="#1b9a70"/>
<rect x="1423.8" y="1796.3" width="4.8" height="46.7" fill="#fde6d2" />
<rect x="1415.7" y="1793.6" width="21" height="5.4" rx="1.5" fill="#ff8a1f"/>
<rect x="1415.7" y="1840.3" width="21" height="5.4" rx="1.5" fill="#ff8a1f"/>
<rect x="1497.8" y="2150.6" width="4.8" height="33.6" fill="#6fc6ad" />
<rect x="1489.2" y="2147.9" width="22" height="5.4" rx="1.5" fill="#9fd8c6"/>
<rect x="1489.2" y="2181.5" width="22" height="5.4" rx="1.5" fill="#1b9a70"/>
<rect x="1607.1" y="1848.3" width="4.8" height="55.4" fill="#ff9a3c" />
<rect x="1601.0" y="1845.6" width="17" height="5.4" rx="1.5" fill="#ffc9a0"/>
<rect x="1601.0" y="1901.0" width="17" height="5.4" rx="1.5" fill="#ff9a3c"/>
<rect x="1679.3" y="2187.7" width="4.8" height="28.3" fill="#6fc6ad" />
<rect x="1670.7" y="2185.0" width="22" height="5.4" rx="1.5" fill="#1b9a70"/>
<rect x="1670.7" y="2213.3" width="22" height="5.4" rx="1.5" fill="#5cbfa0"/>
<line x1="500.4" y1="1352.3" x2="587.0" y2="1352.3" stroke="#7f7f7f" stroke-width="4" stroke-linecap="butt"/>
<line x1="584.5" y1="1350.3" x2="584.5" y2="1493.0" stroke="#9a9a9a" stroke-width="5" stroke-linecap="butt"/>
<text transform="translate(510.6,1349.3) scale(1.22,1)" font-size="31" letter-spacing="6.02" fill="#262626" stroke="#262626" stroke-width="0.6" stroke-linejoin="round">***</text>
<line x1="672.5" y1="1394.7" x2="762.0" y2="1394.7" stroke="#3c3c3c" stroke-width="5" stroke-linecap="butt"/>
<line x1="759.0" y1="1392.2" x2="759.0" y2="1530.0" stroke="#3c3c3c" stroke-width="6" stroke-linecap="butt"/>
<text transform="translate(704.7,1397.0) scale(1.22,1)" font-size="31" letter-spacing="0.00" fill="#262626" stroke="#262626" stroke-width="0.6" stroke-linejoin="round">*</text>
<line x1="855.3" y1="1427.6" x2="946.5" y2="1427.6" stroke="#3c3c3c" stroke-width="5" stroke-linecap="butt"/>
<line x1="943.7" y1="1425.0" x2="943.7" y2="1618.5" stroke="#3c3c3c" stroke-width="6" stroke-linecap="butt"/>
<text transform="translate(878.3,1427.1) scale(1.22,1)" font-size="31" letter-spacing="6.48" fill="#262626" stroke="#262626" stroke-width="0.6" stroke-linejoin="round">**</text>
<line x1="1039.7" y1="1582.0" x2="1127.0" y2="1582.0" stroke="#7f7f7f" stroke-width="5" stroke-linecap="butt"/>
<line x1="1123.8" y1="1579.5" x2="1123.8" y2="1887.0" stroke="#7f7f7f" stroke-width="6" stroke-linecap="butt"/>
<text transform="translate(1049.2,1583.7) scale(1.22,1)" font-size="31" letter-spacing="6.02" fill="#262626" stroke="#262626" stroke-width="0.6" stroke-linejoin="round">***</text>
<line x1="1230.6" y1="1618.5" x2="1323.5" y2="1618.5" stroke="#bdbdbd" stroke-width="4" stroke-linecap="butt"/>
<line x1="1320.0" y1="1616.5" x2="1320.0" y2="1968.5" stroke="#222" stroke-width="7" stroke-linecap="butt"/>
<text transform="translate(1243.6,1619.7) scale(1.22,1)" font-size="31" letter-spacing="6.02" fill="#262626" stroke="#262626" stroke-width="0.6" stroke-linejoin="round">***</text>
<line x1="1405.0" y1="1781.8" x2="1493.0" y2="1781.8" stroke="#111" stroke-width="6" stroke-linecap="butt"/>
<line x1="1494.5" y1="1779.0" x2="1494.5" y2="2110.0" stroke="#cfcfcf" stroke-width="6" stroke-linecap="butt"/>
<text transform="translate(1416.6,1783.4) scale(1.22,1)" font-size="31" letter-spacing="6.02" fill="#262626" stroke="#262626" stroke-width="0.6" stroke-linejoin="round">***</text>
<line x1="1597.8" y1="1825.3" x2="1683.0" y2="1825.3" stroke="#e2e2e2" stroke-width="4" stroke-linecap="butt"/>
<line x1="1680.0" y1="1823.3" x2="1680.0" y2="2154.0" stroke="#a8a8a8" stroke-width="6" stroke-linecap="butt"/>
<text transform="translate(1603.6,1828.7) scale(1.22,1)" font-size="31" letter-spacing="6.02" fill="#262626" stroke="#262626" stroke-width="0.6" stroke-linejoin="round">***</text>
<rect x="446.2" y="1331.5" width="10.0" height="899.5" fill="#000" />
<rect x="429.5" y="2222.2" width="1307.3" height="8.8" fill="#000" />
<rect x="430.5" y="2051.0" width="20.7" height="8.0" fill="#000" />
<rect x="430.5" y="1879.0" width="20.7" height="8.0" fill="#000" />
<rect x="430.5" y="1710.0" width="20.7" height="8.0" fill="#000" />
<rect x="430.5" y="1537.0" width="20.7" height="8.0" fill="#000" />
<rect x="430.5" y="1368.8" width="20.7" height="8.0" fill="#000" />
<rect x="442.0" y="2139.6" width="9.2" height="6.4" fill="#000" />
<rect x="442.0" y="1967.8" width="9.2" height="6.4" fill="#000" />
<rect x="442.0" y="1797.3" width="9.2" height="6.4" fill="#000" />
<rect x="442.0" y="1626.3" width="9.2" height="6.4" fill="#000" />
<rect x="442.0" y="1455.7" width="9.2" height="6.4" fill="#000" />
<rect x="538.2" y="2226.6" width="9.6" height="16.4" fill="#000" />
<rect x="723.9" y="2226.6" width="9.6" height="16.4" fill="#000" />
<rect x="906.9" y="2226.6" width="9.6" height="16.4" fill="#000" />
<rect x="1089.2" y="2226.6" width="9.6" height="16.4" fill="#000" />
<rect x="1274.5" y="2226.6" width="9.6" height="16.4" fill="#000" />
<rect x="1458.0" y="2226.6" width="9.6" height="16.4" fill="#000" />
<rect x="1640.0" y="2226.6" width="9.6" height="16.4" fill="#000" />
<text transform="translate(371.07,2248.90) scale(1.1550,1)" font-size="73.01" fill="#000" >0</text>
<text transform="translate(324.27,2077.30) scale(1.1550,1)" font-size="73.01" fill="#000" >20</text>
<text transform="translate(324.27,1905.30) scale(1.1550,1)" font-size="73.01" fill="#000" >40</text>
<text transform="translate(324.27,1736.30) scale(1.1550,1)" font-size="73.01" fill="#000" >60</text>
<text transform="translate(324.27,1563.30) scale(1.1550,1)" font-size="73.01" fill="#000" >80</text>
<text transform="translate(277.05,1395.10) scale(1.1550,1)" font-size="73.01" fill="#000" >100</text>
<text transform="translate(527.05,2320.50) scale(1.2169,1)" font-size="73.01" fill="#000" >0</text>
<text transform="translate(685.11,2320.50) scale(1.1994,1)" font-size="73.01" fill="#000" >10</text>
<text transform="translate(871.32,2320.50) scale(1.1659,1)" font-size="73.01" fill="#000" >20</text>
<text transform="translate(1055.89,2320.50) scale(1.1574,1)" font-size="73.01" fill="#000" >30</text>
<text transform="translate(1239.99,2320.50) scale(1.1458,1)" font-size="73.01" fill="#000" >50</text>
<text transform="translate(1421.63,2320.50) scale(1.1786,1)" font-size="73.01" fill="#000" >70</text>
<text transform="translate(1582.63,2320.50) scale(1.1737,1)" font-size="73.01" fill="#000" >100</text>
<text transform="translate(615.57,2419.00) scale(1.1736,1)" font-size="72.97" fill="#000" >Concentration</text>
<text transform="translate(1219.14,2421.05) scale(1.0450,1)" font-size="59.32" fill="#000" >(</text>
<text transform="translate(1245.63,2419.65) scale(1.2354,1)" font-size="65.99" style="font-family:'Liberation Serif',serif;font-weight:normal;" fill="#000" stroke="#000" stroke-width="2.4" stroke-linejoin="round">µ</text>
<text transform="translate(1293.61,2419.00) scale(1.1735,1)" font-size="72.97" fill="#000" >g mL</text>
<text transform="translate(1500.48,2390.64) scale(0.8980,1)" font-size="52.48" fill="#000" stroke="#000" stroke-width="1.2" stroke-linejoin="round">-1</text>
<text transform="translate(1551.12,2420.96) scale(1.0029,1)" font-size="60.73" fill="#000" >)</text>
<text transform="translate(253.00,2085.32) rotate(-90) scale(1,1.2176)" font-size="73.00" fill="#000" stroke="#fff" stroke-width="0.3">Cell Viability</text>
<text transform="translate(253.00,1629.73) rotate(-90) scale(1,1.2176)" font-size="75.96" style="font-weight:normal;" fill="#000" stroke="#000" stroke-width="1.2" stroke-linejoin="round">(%)</text>
<rect x="730.5" y="1258.5" width="103.0" height="42.5" fill="#fdd9b9" stroke="#ff9838" stroke-width="3"/>
<rect x="733.5" y="1261.5" width="97.0" height="36.5" fill="none" stroke="#fff" stroke-opacity="0.45" stroke-width="1.5"/>
<rect x="1351.5" y="1258.5" width="105.4" height="42.5" fill="#c5e5c4" stroke="#5cc25c" stroke-width="3"/>
<rect x="1354.5" y="1261.5" width="99.4" height="36.5" fill="none" stroke="#fff" stroke-opacity="0.45" stroke-width="1.5"/>
<text transform="translate(860.50,1294.00) scale(1.0833,1)" font-size="66.00" fill="#000" >Without H</text>
<text transform="translate(1197.09,1310.90) scale(1.1777,1)" font-size="41.57" fill="#000" stroke="#000" stroke-width="0.8" stroke-linejoin="round">2</text>
<text transform="translate(1224.26,1294.00) scale(1.0377,1)" font-size="66.00" fill="#000" >O</text>
<text transform="translate(1279.30,1310.90) scale(1.1025,1)" font-size="41.57" fill="#000" stroke="#000" stroke-width="0.8" stroke-linejoin="round">2</text>
<text transform="translate(1477.60,1294.00) scale(1.0611,1)" font-size="66.00" fill="#000" >With H</text>
<text transform="translate(1701.78,1310.90) scale(1.1827,1)" font-size="41.57" fill="#000" stroke="#000" stroke-width="0.8" stroke-linejoin="round">2</text>
<text transform="translate(1730.07,1294.00) scale(1.0355,1)" font-size="66.00" fill="#000" >O</text>
<text transform="translate(1783.39,1310.90) scale(1.1777,1)" font-size="41.57" fill="#000" stroke="#000" stroke-width="0.8" stroke-linejoin="round">2</text>
<text transform="translate(87.84,1307.00) scale(1.1575,1)" font-size="105.80" fill="#000" >B</text>
</g>
</svg>
</body></html>
